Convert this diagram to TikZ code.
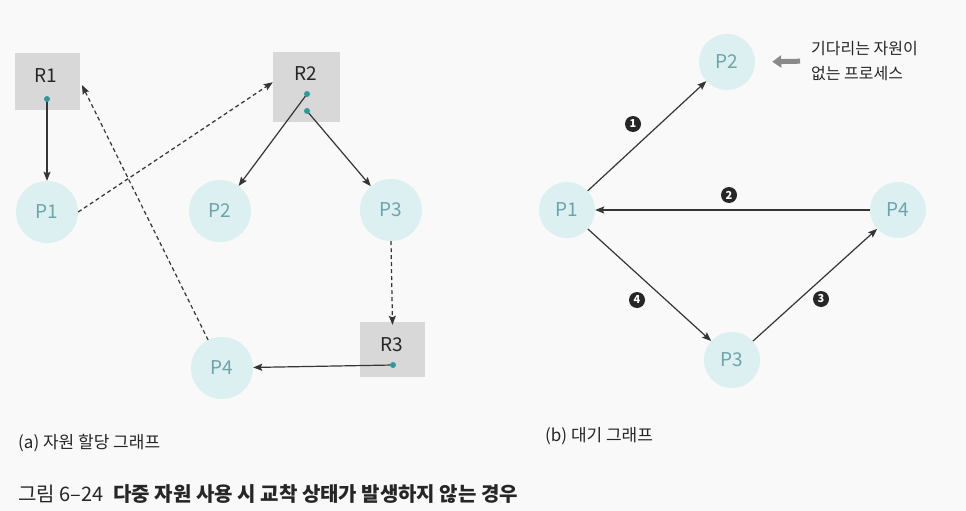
\documentclass[tikz,border=0pt]{standalone}
\usepackage{fontspec}
\setmainfont{Noto Sans CJK KR}
\usetikzlibrary{arrows.meta}
\definecolor{boxgray}{HTML}{D9D8D8}
\definecolor{procfill}{HTML}{DCEFF1}
\definecolor{proctext}{HTML}{6FA3AA}
\definecolor{dotteal}{HTML}{2F9A9C}
\definecolor{edgecol}{HTML}{353535}
\definecolor{paper}{HTML}{FAF9F9}
\definecolor{notearrow}{HTML}{8A8A8A}
\begin{document}
\begin{tikzpicture}[x=1pt,y=-1pt,
  proc/.style={circle, fill=procfill, minimum size=62pt, inner sep=0pt, text=proctext, font=\fontsize{19}{20}\selectfont},
  procb/.style={proc, minimum size=56pt},
  resbox/.style={rectangle, fill=boxgray, inner sep=0pt},
  reslbl/.style={text=black!85, font=\fontsize{19}{20}\selectfont, inner sep=0pt},
  rdot/.style={circle, fill=dotteal, minimum size=6pt, inner sep=0pt},
  arr/.style={-{Stealth[length=9pt,width=7pt,inset=1.5pt]}, draw=edgecol, line width=1.2pt},
  darr/.style={arr, dash pattern=on 4pt off 3pt},
  num/.style={circle, fill=black!85, text=white, inner sep=0pt, minimum size=16pt, font=\fontsize{11}{11}\selectfont\bfseries},
  captext/.style={anchor=west, inner sep=0pt, text=black!85, font=\fontsize{17}{20}\selectfont}]
\fill[paper] (0,0) rectangle (966,511);
\useasboundingbox (0,0) rectangle (966,511);

% ---------- (a) resource allocation graph ----------
\node[resbox, minimum width=65pt, minimum height=57pt] (R1) at (47.5,81.5) {};
\node[resbox, minimum width=67pt, minimum height=70pt] (R2) at (306.5,87) {};
\node[resbox, minimum width=65pt, minimum height=55pt] (R3) at (392.5,349.5) {};
\node[reslbl] (R1l) at (46,76) {R1};
\node[reslbl] (R2l) at (306,74) {R2};
\node[reslbl] (R3l) at (392,345) {R3};

\node[proc] (P1) at (47,212) {P1};
\node[proc] (P2) at (220,211) {P2};
\node[proc] (P3) at (391,210) {P3};
\node[proc] (P4) at (222,368) {P4};

\coordinate (r1d) at (47,99);
\coordinate (r2da) at (307,94);
\coordinate (r2db) at (307,111);
\coordinate (r3d) at (393,365);

\draw[arr] (r1d) -- (P1);
\draw[darr] (P1.east) -- (R2.172);
\draw[arr] (r2da) -- (P2);
\draw[arr] (r2db) -- (P3);
\draw[darr] (P3.south) -- ([yshift=-3pt]R3.north);
\draw[arr] (r3d) -- (P4);
\draw[darr, shorten >=4pt] (P4) -- (R1.east);

\node[rdot] (d1) at (r1d) {};
\node[rdot] (d2) at (r2da) {};
\node[rdot] (d3) at (r2db) {};
\node[rdot] (d4) at (r3d) {};

\node[captext] (capa) at (18,443) {(a) 자원 할당 그래프};

% ---------- (b) wait-for graph ----------
\node[procb] (Q1) at (567,210) {P1};
\node[procb] (Q2) at (727,62) {P2};
\node[procb] (Q3) at (732,360) {P3};
\node[procb] (Q4) at (898,210) {P4};

\draw[arr] (Q1) -- (Q2);
\draw[arr] (Q4) -- (Q1);
\draw[arr] (Q3) -- (Q4);
\draw[arr] (Q1) -- (Q3);

\node[num] (n1) at (633,124) {1};
\node[num] (n2) at (729,195) {2};
\node[num] (n3) at (821,299) {3};
\node[num] (n4) at (637,300) {4};

\node[anchor=west, align=left, inner sep=0pt, text=black!85,
      font=\fontsize{16}{25}\selectfont] (note) at (811,61) {기다리는 자원이\\없는 프로세스};
\draw[notearrow, line width=5pt, -{Triangle[length=9pt,width=12pt]}, shorten <=11pt, shorten >=17pt]
  (note.west) -- (Q2.east);

\node[captext] (capb) at (545,436) {(b) 대기 그래프};

% ---------- figure caption ----------
\node[captext, font=\fontsize{20}{22}\selectfont] (fig) at (18,494) {그림 6–24\hspace{10pt}\bfseries 다중 자원 사용 시 교착 상태가 발생하지 않는 경우};
\end{tikzpicture}
\end{document}
